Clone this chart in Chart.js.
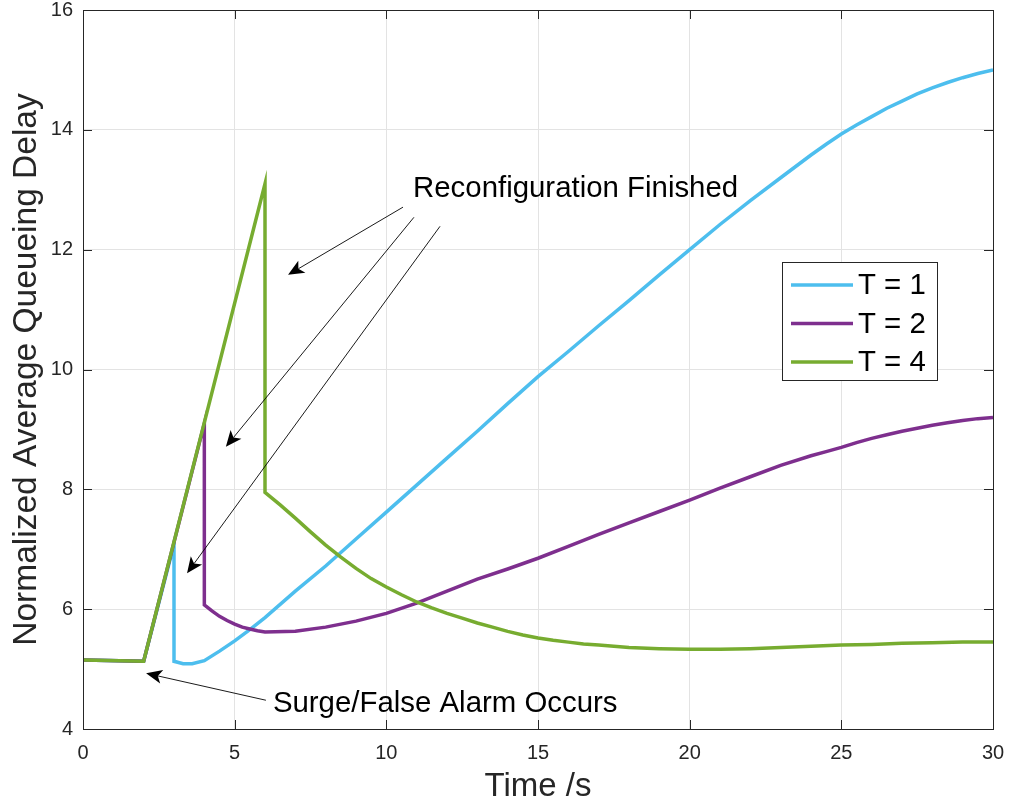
<!doctype html>
<html lang="en">
<head>
<meta charset="utf-8">
<title>Queueing delay</title>
<script src="https://cdn.jsdelivr.net/npm/chart.js"></script>
<style>
  body { margin: 0; background: #fff; }
  canvas { display: block; }
</style>
</head>
<body>
<canvas id="delayChart" width="1010" height="810"></canvas>
<script>
// time (s) and normalized delay for each reconfiguration period T
var t1Time  = [0, 2, 3, 3, 3.3, 3.6, 4, 4.5, 5, 5.5, 6, 7, 8, 9, 10, 11, 12, 13, 14, 15, 16, 17, 18, 19, 20, 21, 22, 23, 24, 24.5, 25, 25.5, 26, 26.5, 27, 27.5, 28, 28.5, 29, 29.5, 30];
var t1Delay = [5.15, 5.13, 7.08, 5.13, 5.09, 5.09, 5.14, 5.3, 5.47, 5.66, 5.86, 6.3, 6.72, 7.17, 7.62, 8.07, 8.52, 8.97, 9.43, 9.88, 10.3, 10.73, 11.15, 11.58, 12.0, 12.42, 12.82, 13.2, 13.58, 13.76, 13.93, 14.08, 14.22, 14.36, 14.48, 14.6, 14.7, 14.79, 14.87, 14.94, 15.0];

var t2Time  = [0, 2, 4, 4, 4.25, 4.5, 4.75, 5, 5.25, 5.5, 5.75, 6, 7, 8, 9, 10, 11, 12, 13, 14, 15, 16, 17, 18, 19, 20, 21, 22, 23, 24, 24.5, 25, 25.5, 26, 26.5, 27, 27.5, 28, 28.5, 29, 29.5, 30];
var t2Delay = [5.15, 5.13, 9.1, 6.07, 5.97, 5.88, 5.81, 5.75, 5.7, 5.67, 5.64, 5.62, 5.63, 5.7, 5.8, 5.93, 6.1, 6.3, 6.5, 6.67, 6.85, 7.05, 7.25, 7.44, 7.63, 7.82, 8.02, 8.21, 8.4, 8.56, 8.63, 8.7, 8.78, 8.85, 8.91, 8.97, 9.02, 9.07, 9.11, 9.15, 9.18, 9.2];

var t4Time  = [0, 2, 6, 6, 6.5, 7, 7.5, 8, 8.5, 9, 9.5, 10, 10.5, 11, 11.5, 12, 12.5, 13, 13.5, 14, 14.5, 15, 15.5, 16, 16.5, 17, 18, 19, 20, 21, 22, 23, 24, 25, 26, 27, 28, 29, 30];
var t4Delay = [5.15, 5.13, 13.1, 7.95, 7.74, 7.52, 7.29, 7.07, 6.87, 6.68, 6.51, 6.37, 6.24, 6.12, 6.02, 5.93, 5.85, 5.77, 5.7, 5.63, 5.57, 5.52, 5.48, 5.45, 5.42, 5.4, 5.36, 5.34, 5.33, 5.33, 5.34, 5.36, 5.38, 5.4, 5.41, 5.43, 5.44, 5.45, 5.45];

var seriesNames = ['T = 1', 'T = 2', 'T = 4'];
var xTicks = [0, 5, 10, 15, 20, 25, 30];
var yTicks = [4, 6, 8, 10, 12, 14, 16];

var axisColor = '#262626';
var fontFamily = '"Liberation Sans", Arial, Helvetica, sans-serif';

function toPoints(xs, ys) {
  return xs.map(function (x, i) { return { x: x, y: ys[i] }; });
}

function drawArrow(ctx, x0, y0, x1, y1) {
  var dx = x1 - x0, dy = y1 - y0;
  var len = Math.sqrt(dx * dx + dy * dy);
  var ux = dx / len, uy = dy / len;
  var nx = -uy, ny = ux;
  var L = 16, W = 7, N = 12;
  ctx.beginPath();
  ctx.moveTo(x0, y0);
  ctx.lineTo(x1 - ux * N, y1 - uy * N);
  ctx.stroke();
  ctx.beginPath();
  ctx.moveTo(x1, y1);
  ctx.lineTo(x1 - ux * L + nx * W, y1 - uy * L + ny * W);
  ctx.lineTo(x1 - ux * N, y1 - uy * N);
  ctx.lineTo(x1 - ux * L - nx * W, y1 - uy * L - ny * W);
  ctx.closePath();
  ctx.fill();
}

// fixed axis sizes, no extra room for overhanging labels
function fixSize(prop, size) {
  return function (s) {
    s[prop] = size;
    s.paddingTop = s.paddingBottom = s.paddingLeft = s.paddingRight = 0;
  };
}

// box, inward ticks, legend and the text notes with arrows
var decorPlugin = {
  id: 'decor',
  afterDatasetsDraw: function (chart, args, opts) {
    var ctx = chart.ctx;
    var a = chart.chartArea;
    var xs = chart.scales.x, ys = chart.scales.y;
    ctx.save();

    // inward tick marks on all four sides
    ctx.strokeStyle = axisColor;
    ctx.lineWidth = 1;
    ctx.beginPath();
    xTicks.forEach(function (v) {
      var px = Math.round(xs.getPixelForValue(v)) + 0.5;
      ctx.moveTo(px, a.bottom); ctx.lineTo(px, a.bottom - 9);
      ctx.moveTo(px, a.top); ctx.lineTo(px, a.top + 9);
    });
    yTicks.forEach(function (v) {
      var py = Math.round(ys.getPixelForValue(v)) + 0.5;
      ctx.moveTo(a.left, py); ctx.lineTo(a.left + 9, py);
      ctx.moveTo(a.right, py); ctx.lineTo(a.right - 9, py);
    });
    ctx.stroke();
    ctx.strokeRect(Math.round(a.left) + 0.5, Math.round(a.top) + 0.5,
                   Math.round(a.right - a.left), Math.round(a.bottom - a.top));

    // notes
    ctx.fillStyle = '#000';
    ctx.strokeStyle = '#000';
    ctx.lineWidth = 0.9;
    ctx.font = '29.4px ' + fontFamily;
    ctx.textBaseline = 'middle';
    ctx.textAlign = 'left';
    opts.notes.forEach(function (n) {
      ctx.fillText(n.text, xs.getPixelForValue(n.at[0]), ys.getPixelForValue(n.at[1]));
    });
    opts.arrows.forEach(function (r) {
      drawArrow(ctx,
        xs.getPixelForValue(r[0]), ys.getPixelForValue(r[1]),
        xs.getPixelForValue(r[2]), ys.getPixelForValue(r[3]));
    });

    // legend box
    var lx = a.right - 211, ly = a.top + 252, lw = 155, lh = 118;
    ctx.fillStyle = '#fff';
    ctx.fillRect(lx, ly, lw, lh);
    ctx.strokeStyle = axisColor;
    ctx.lineWidth = 1;
    ctx.strokeRect(lx + 0.5, ly + 0.5, lw, lh);
    chart.data.datasets.forEach(function (ds, i) {
      var cy = ly + 23 + i * 38.5;
      ctx.strokeStyle = ds.borderColor;
      ctx.lineWidth = 3.5;
      ctx.beginPath();
      ctx.moveTo(lx + 9, cy); ctx.lineTo(lx + 71, cy);
      ctx.stroke();
      ctx.fillStyle = '#000';
      ctx.fillText(ds.label, lx + 76, cy + 1);
    });
    ctx.restore();
  }
};

var lineStyle = { borderWidth: 3.5, pointRadius: 0, tension: 0, fill: false };

new Chart(document.getElementById('delayChart'), {
  type: 'line',
  data: {
    datasets: [
      Object.assign({ label: seriesNames[0], data: toPoints(t1Time, t1Delay), borderColor: 'rgb(77, 190, 238)', order: 2 }, lineStyle),
      Object.assign({ label: seriesNames[1], data: toPoints(t2Time, t2Delay), borderColor: 'rgb(126, 47, 142)', order: 1 }, lineStyle),
      Object.assign({ label: seriesNames[2], data: toPoints(t4Time, t4Delay), borderColor: 'rgb(119, 172, 48)', order: 0 }, lineStyle)
    ]
  },
  options: {
    responsive: false,
    animation: false,
    layout: { padding: { top: 10, right: 17, left: 0, bottom: 0 } },
    plugins: {
      legend: { display: false },
      tooltip: { enabled: false },
      decor: {
        notes: [
          { text: 'Reconfiguration Finished', at: [10.88, 13.01] },
          { text: 'Surge/False Alarm Occurs', at: [6.26, 4.42] }
        ],
        arrows: [
          [10.55, 12.71, 6.76, 11.58],
          [10.91, 12.54, 4.71, 8.71],
          [11.77, 12.39, 3.43, 6.6],
          [6.03, 4.48, 2.08, 4.93]
        ]
      }
    },
    scales: {
      x: {
        type: 'linear',
        min: 0, max: 30,
        afterBuildTicks: function (s) { s.ticks = xTicks.map(function (v) { return { value: v }; }); },
        afterFit: fixSize('height', 81),
        grid: { color: '#e3e3e3', drawTicks: false },
        border: { display: false },
        ticks: { padding: 12, color: axisColor, font: { family: fontFamily, size: 20 }, maxRotation: 0 },
        title: { display: true, text: 'Time /s', color: axisColor, padding: { top: 0, bottom: 3 }, font: { family: fontFamily, size: 33 } }
      },
      y: {
        min: 4, max: 16,
        afterBuildTicks: function (s) { s.ticks = yTicks.map(function (v) { return { value: v }; }); },
        afterFit: fixSize('width', 83),
        grid: { color: '#e3e3e3', drawTicks: false },
        border: { display: false },
        ticks: { padding: 10, color: axisColor, font: { family: fontFamily, size: 20 } },
        title: { display: true, text: 'Normalized Average Queueing Delay', color: axisColor, padding: { top: 7, bottom: 0 }, font: { family: fontFamily, size: 33.5 } }
      }
    }
  },
  plugins: [decorPlugin]
});
</script>
</body>
</html>
